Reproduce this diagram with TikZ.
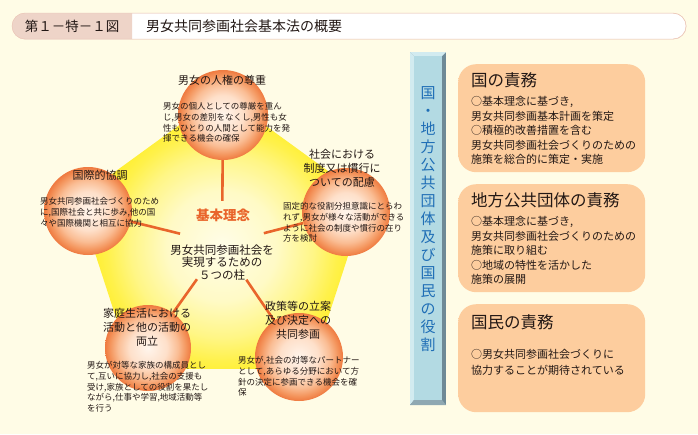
\documentclass[tikz,border=0pt]{standalone}
\usepackage{fontspec}
\setmainfont{Noto Sans CJK JP}
\usetikzlibrary{calc}
\definecolor{bg}{HTML}{FFFCE6}
\definecolor{txt}{HTML}{231815}
\definecolor{pinkf}{HTML}{EED4C8}
\definecolor{pinkb}{HTML}{EBC4B5}
\definecolor{spokec}{HTML}{E9652B}
\definecolor{glA}{HTML}{FFFDE8}
\definecolor{glB}{HTML}{FFFAC6}
\definecolor{glC}{HTML}{FFF686}
\definecolor{glD}{HTML}{FFF14A}
\definecolor{glE}{HTML}{FFEE1E}
\definecolor{spA}{HTML}{FFF5EC}
\definecolor{spB}{HTML}{FEE0CA}
\definecolor{spC}{HTML}{FABD94}
\definecolor{spD}{HTML}{F4965E}
\definecolor{spE}{HTML}{EF7A40}
\definecolor{barF}{HTML}{B3DAE3}
\definecolor{barL}{HTML}{D2EBF0}
\definecolor{barD}{HTML}{6E8A97}
\definecolor{barB}{HTML}{8FA8B2}
\definecolor{vtc}{HTML}{1F6EB6}
\definecolor{boxO}{HTML}{FDCD9E}
\pgfdeclareradialshading{glowsh}{\pgfpoint{0bp}{0bp}}{color(0bp)=(glA); color(9bp)=(glB); color(15bp)=(glC); color(19bp)=(glD); color(23bp)=(glE); color(50bp)=(glE)}
\pgfdeclareradialshading{sphsh}{\pgfpoint{0bp}{0bp}}{color(0bp)=(spA); color(11bp)=(spB); color(17.5bp)=(spC); color(22bp)=(spD); color(25bp)=(spE); color(50bp)=(spE)}
\begin{document}
\begin{tikzpicture}[x=1pt,y=-1pt,
  sphere/.style={circle, inner sep=0, minimum size=#1, shading=sphsh},
  spoke/.style={draw=spokec, line width=2.6pt},
  sttl/.style={font=\fontsize{11}{14}\selectfont, align=center, text=txt, inner sep=0},
  sbody/.style={font=\fontsize{8.5}{10.6}\selectfont, align=left, text=txt, inner sep=0, anchor=north west},
  rbox/.style={rounded corners=18pt, top color=boxO, middle color=white, bottom color=boxO, minimum width=187pt, minimum height=108pt, anchor=north west, inner sep=0},
  btitle/.style={font=\fontsize{16.5}{19}\selectfont, text=txt, inner sep=0, anchor=west},
  bbody/.style={font=\fontsize{11}{14.4}\selectfont, align=left, text=txt, inner sep=0, anchor=north west}]
\useasboundingbox (0,0) rectangle (698,434);
\fill[bg] (0,0) rectangle (698,434);
% title bar
\node[draw=pinkb, fill=white, rounded corners=13pt, minimum width=674pt, minimum height=26pt, inner sep=0, anchor=north west] (tbar) at (12,13) {};
\begin{scope}
\clip (12,13) rectangle (132,39);
\fill[pinkf, rounded corners=13pt] (12,13) rectangle (686,39);
\end{scope}
\draw[pinkb, rounded corners=13pt] (12,13) rectangle (686,39);
\node[font=\fontsize{13.5}{15}\selectfont, text=txt, inner sep=0] (tnum) at (72,26.5) {第１－特－１図};
\node[font=\fontsize{14}{16}\selectfont, text=txt, inner sep=0, anchor=west] (ttext) at (146,26.5) {男女共同参画社会基本法の概要};
% yellow pentagon glow
\begin{scope}[shift={(222,246)}]
\clip[rounded corners=30pt] ($(-90:152)!.5!(-18:152)$) -- (-18:152) -- (54:152) -- (126:152) -- (198:152) -- (-90:152) -- cycle;
\shade[shading=glowsh] (0,0) circle (152);
\end{scope}
% center and spokes
\node[circle, inner sep=0, minimum size=86pt] (kc) at (222,244) {};
\node[sphere=90pt] (s1) at (223,115) {};
\node[sphere=88pt] (s2) at (346,212) {};
\node[sphere=88pt] (s3) at (88,211) {};
\node[sphere=86pt] (s4) at (148,348) {};
\node[sphere=88pt] (s5) at (299,357) {};
\draw[spoke] (kc) -- (s1);
\draw[spoke] (kc) -- (s2);
\draw[spoke] (kc) -- (s3);
\draw[spoke] (kc) -- (s4);
\draw[spoke] (kc) -- (s5);
\node[font=\fontsize{13.5}{15}\selectfont\bfseries, text=spokec, inner sep=0] (kihon) at (223,215) {基本理念};
\node[font=\fontsize{11.5}{12.6}\selectfont, align=center, text=txt, inner sep=0] (ktext) at (222,262.5) {男女共同参画社会を\\実現するための\\５つの柱};
% sphere texts
\node[sttl] (t1) at (222,80) {男女の人権の尊重};
\node[sbody] (b1) at (163,102.5) {男女の個人としての尊厳を重ん\\じ,男女の差別をなくし,男性も女\\性もひとりの人間として能力を発\\揮できる機会の確保};
\node[sttl] (t2) at (342,168.5) {社会における\\制度又は慣行に\\ついての配慮};
\node[sbody] (b2) at (283,202.5) {固定的な役割分担意識にとらわ\\れず,男女が様々な活動ができる\\ように社会の制度や慣行の在り\\方を検討};
\node[sttl] (t3) at (100,175) {国際的協調};
\node[sbody] (b3) at (40,197.5) {男女共同参画社会づくりのため\\に,国際社会と共に歩み,他の国\\々や国際機関と相互に協力};
\node[sttl] (t4) at (147,327.5) {家庭生活における\\活動と他の活動の\\両立};
\node[sbody] (b4) at (87,361.5) {男女が対等な家族の構成員とし\\て,互いに協力し,社会の支援も\\受け,家族としての役割を果たし\\ながら,仕事や学習,地域活動等\\を行う};
\node[sttl] (t5) at (298,320) {政策等の立案\\及び決定への\\共同参画};
\node[sbody] (b5) at (238,356.5) {男女が,社会の対等なパートナー\\として,あらゆる分野において方\\針の決定に参画できる機会を確\\保};
% vertical bar
\fill[barD] (410,52) rectangle (446,405);
\fill[barL] (410,52) -- (446,52) -- (442,56) -- (414,56) -- cycle;
\fill[barL] (410,52) -- (414,56) -- (414,400) -- (410,405) -- cycle;
\fill[barB] (410,405) -- (446,405) -- (442,400) -- (414,400) -- cycle;
\fill[barF] (414,56) rectangle (442,400);
\node[font=\fontsize{15}{18}\selectfont, align=center, text=vtc, inner sep=0] (vt) at (428,219) {国\\・\\地\\方\\公\\共\\団\\体\\及\\び\\国\\民\\の\\役\\割};
% right boxes
\node[rbox] (r1) at (458,64) {};
\node[rbox] (r2) at (458,184) {};
\node[rbox] (r3) at (458,304) {};
\node[btitle] (r1t) at (471,80) {国の責務};
\node[bbody] (r1b) at (471,96.5) {○基本理念に基づき,\\男女共同参画基本計画を策定\\○積極的改善措置を含む\\男女共同参画社会づくりのための\\施策を総合的に策定・実施};
\node[btitle] (r2t) at (471,200) {地方公共団体の責務};
\node[bbody] (r2b) at (471,216.5) {○基本理念に基づき,\\男女共同参画社会づくりのための\\施策に取り組む\\○地域の特性を活かした\\施策の展開};
\node[btitle] (r3t) at (471,322) {国民の責務};
\node[bbody, font=\fontsize{11}{15.5}\selectfont] (r3b) at (471,349.5) {○男女共同参画社会づくりに\\協力することが期待されている};
\end{tikzpicture}
\end{document}
